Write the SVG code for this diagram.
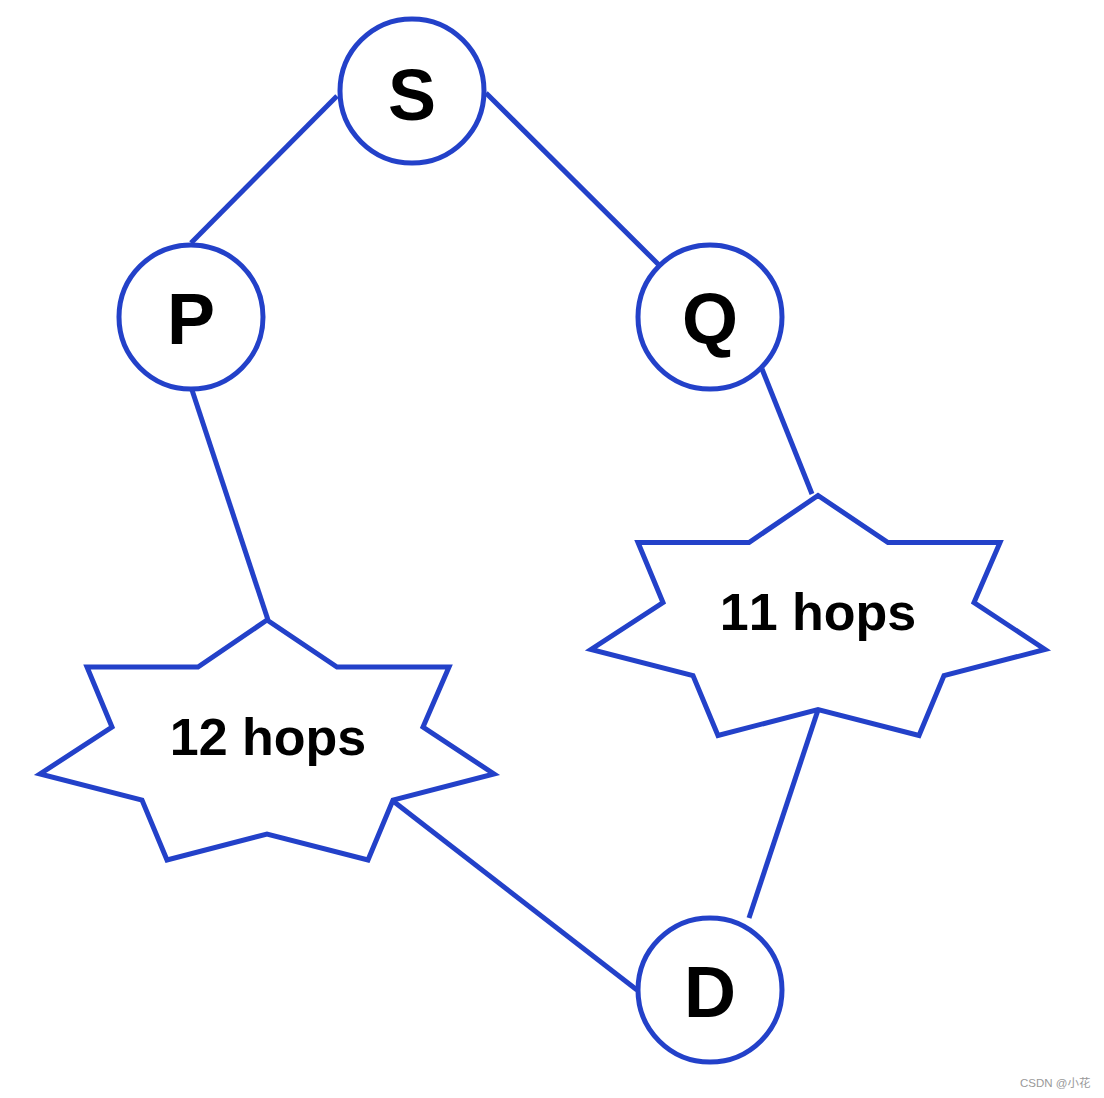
<svg xmlns="http://www.w3.org/2000/svg" width="1104" height="1098" viewBox="0 0 1104 1098">
<style>
.n{fill:#fff;stroke:#2341C9;stroke-width:5}
.e{stroke:#2341C9;stroke-width:5;fill:none}
.t{font-family:"Liberation Sans",Arial,sans-serif;font-weight:bold;fill:#000;text-anchor:middle;font-kerning:none}
.big{font-size:72px}
.hop{font-size:52px}
.wm{font-family:"Liberation Sans","Noto Sans CJK SC",sans-serif;font-size:11.5px;fill:#999}
</style>
<defs>
<polygon id="star" points="267,620 198,667 87,667 112,727 40,774 142,800 167,860 267,834 368,860 393,800 494,774 423,727 449,667 337,667"/>
</defs>
<rect width="1104" height="1098" fill="#fff"/>
<g id="connectors">
<line class="e" x1="337" y1="96" x2="191" y2="243"/>
<line class="e" x1="486" y1="93" x2="659" y2="265"/>
<line class="e" x1="192" y1="390" x2="268" y2="620"/>
<line class="e" x1="762" y1="369" x2="812" y2="494"/>
<line class="e" x1="818" y1="710" x2="749" y2="918"/>
<line class="e" x1="393" y1="801" x2="637" y2="990"/>
</g>
<g id="S"><circle class="n" cx="412" cy="91" r="72"/><text class="t big" x="412" y="120">S</text></g>
<g id="P"><circle class="n" cx="191" cy="317" r="72"/><text class="t big" x="191" y="344">P</text></g>
<g id="Q"><circle class="n" cx="710" cy="317" r="72"/><text class="t big" x="710" y="344">Q</text></g>
<g id="D"><circle class="n" cx="710" cy="990" r="72"/><text class="t big" x="710" y="1017">D</text></g>
<g id="hops12"><use href="#star" class="n"/><text class="t hop" x="268" y="755">12 hops</text></g>
<g id="hops11"><use href="#star" class="n" transform="translate(551,-124.5)"/><text class="t hop" x="818" y="630">11 hops</text></g>
<text class="wm" x="1020" y="1087">CSDN @小花</text>
</svg>
